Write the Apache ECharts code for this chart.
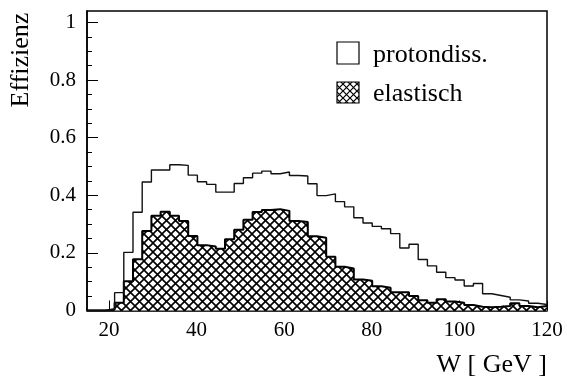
<!DOCTYPE html>
<html><head><meta charset="utf-8">
<script src="https://cdn.jsdelivr.net/npm/echarts@6/dist/echarts.min.js"></script>
<style>html,body{margin:0;padding:0;background:#fff}#c{width:567px;height:378px}</style>
</head><body><div id="c"></div>
<script>
// Histogram binning (50 bins from 15 to 120 GeV)
const binStart = 15;
const binWidth = 2.1;
const binCount = 50;

const protondiss = [
  0, 0, 0.006, 0.062, 0.202, 0.341, 0.446, 0.488, 0.488, 0.506,
  0.504, 0.470, 0.447, 0.438, 0.411, 0.411, 0.441, 0.461, 0.477, 0.484,
  0.475, 0.481, 0.469, 0.467, 0.440, 0.399, 0.405, 0.378, 0.360, 0.322,
  0.304, 0.292, 0.284, 0.267, 0.217, 0.230, 0.177, 0.155, 0.133, 0.114,
  0.106, 0.085, 0.094, 0.058, 0.052, 0.046, 0.037, 0.033, 0.025, 0.021
];
const elastisch = [
  0, 0, 0.003, 0.027, 0.102, 0.178, 0.276, 0.329, 0.343, 0.329,
  0.311, 0.259, 0.227, 0.222, 0.214, 0.247, 0.280, 0.315, 0.342, 0.349,
  0.352, 0.346, 0.311, 0.307, 0.258, 0.253, 0.187, 0.152, 0.146, 0.108,
  0.103, 0.084, 0.079, 0.063, 0.063, 0.050, 0.036, 0.027, 0.039, 0.031,
  0.027, 0.019, 0.013, 0.011, 0.013, 0.016, 0.025, 0.016, 0.011, 0.016
];

const xTickLabels = [20, 40, 60, 80, 100, 120];
const xMinorTicks = [30, 50, 70, 90, 110];
const yTickLabels = [0, 0.2, 0.4, 0.6, 0.8, 1];
const yMinorTicks = [0.05, 0.1, 0.15, 0.25, 0.3, 0.35, 0.45, 0.5, 0.55, 0.65, 0.7, 0.75, 0.85, 0.9, 0.95];

const seriesNames = ['protondiss.', 'elastisch'];
const xTitle = 'W [ GeV ]';
const yTitle = 'Effizienz';

function stepData(vals) {
  const d = vals.map((v, i) => [binStart + binWidth * i, v]);
  d.push([binStart + binWidth * binCount, vals[vals.length - 1]]);
  return d;
}

function hatch(size, lw) {
  const c = document.createElement('canvas');
  c.width = size; c.height = size;
  const g = c.getContext('2d');
  g.fillStyle = '#fff';
  g.fillRect(0, 0, size, size);
  g.strokeStyle = '#000';
  g.lineWidth = lw;
  g.beginPath();
  g.moveTo(-1, -1); g.lineTo(size + 1, size + 1);
  g.moveTo(-1, size + 1); g.lineTo(size + 1, -1);
  g.stroke();
  return c;
}
const hatchPattern = { image: hatch(9, 1.6), repeat: 'repeat' };
const hatchSmall = { image: hatch(7, 1.2), repeat: 'repeat' };

const FONT = '"Liberation Serif", "Times New Roman", serif';
const chart = echarts.init(document.getElementById('c'), null, { renderer: 'canvas' });

const baseAxis = {
  type: 'value',
  splitLine: { show: false }
};

chart.setOption({
  animation: false,
  backgroundColor: '#fff',
  grid: {
    left: 87, right: 20, top: 11, bottom: 67.5,
    show: true, borderColor: '#000', borderWidth: 1.5,
    containLabel: false, outerBoundsMode: 'none'
  },
  xAxis: [
    Object.assign({}, baseAxis, {
      min: 15, max: 120, position: 'bottom',
      axisLine: { show: true, lineStyle: { color: '#000', width: 1.5 } },
      axisTick: { show: true, inside: true, length: 10, customValues: xTickLabels, lineStyle: { color: '#000', width: 1 } },
      axisLabel: { show: true, customValues: xTickLabels, color: '#000', fontFamily: FONT, fontSize: 21, margin: 9 }
    }),
    Object.assign({}, baseAxis, {
      min: 15, max: 120, position: 'bottom',
      axisLine: { show: false },
      axisTick: { show: true, inside: true, length: 5, customValues: xMinorTicks, lineStyle: { color: '#000', width: 1 } },
      axisLabel: { show: false }
    })
  ],
  yAxis: [
    Object.assign({}, baseAxis, {
      min: 0, max: 1.04, position: 'left',
      axisLine: { show: true, lineStyle: { color: '#000', width: 1.5 } },
      axisTick: { show: true, inside: true, length: 11, customValues: yTickLabels, lineStyle: { color: '#000', width: 1 } },
      axisLabel: { show: true, customValues: yTickLabels, color: '#000', fontFamily: FONT, fontSize: 21, margin: 11 }
    }),
    Object.assign({}, baseAxis, {
      min: 0, max: 1.04, position: 'left',
      axisLine: { show: false },
      axisTick: { show: true, inside: true, length: 5, customValues: yMinorTicks, lineStyle: { color: '#000', width: 1 } },
      axisLabel: { show: false }
    })
  ],
  series: [
    {
      name: seriesNames[1], type: 'line', step: 'end',
      xAxisIndex: 0, yAxisIndex: 0,
      data: stepData(elastisch),
      showSymbol: false, symbol: 'none',
      lineStyle: { color: '#000', width: 2 },
      areaStyle: { color: hatchPattern, opacity: 1 },
      z: 2
    },
    {
      name: seriesNames[0], type: 'line', step: 'end',
      xAxisIndex: 0, yAxisIndex: 0,
      data: stepData(protondiss),
      showSymbol: false, symbol: 'none',
      lineStyle: { color: '#111', width: 1.4 },
      z: 3
    }
  ],
  graphic: [
    { type: 'text', x: 21, y: 60, rotation: Math.PI / 2,
      style: { text: yTitle, font: '26px ' + FONT, fill: '#000', align: 'center', verticalAlign: 'middle' } },
    { type: 'text', x: 547, y: 365,
      style: { text: xTitle, font: '26px ' + FONT, fill: '#000', align: 'right', verticalAlign: 'middle' } },
    { type: 'rect', shape: { x: 337, y: 42, width: 22, height: 22 },
      style: { fill: '#fff', stroke: '#000', lineWidth: 1.2 } },
    { type: 'rect', shape: { x: 337, y: 82, width: 22, height: 21 },
      style: { fill: hatchSmall, stroke: '#000', lineWidth: 1.2 } },
    { type: 'text', x: 373, y: 55,
      style: { text: seriesNames[0], font: '26px ' + FONT, fill: '#000', align: 'left', verticalAlign: 'middle' } },
    { type: 'text', x: 373, y: 94.5,
      style: { text: seriesNames[1], font: '26px ' + FONT, fill: '#000', align: 'left', verticalAlign: 'middle' } }
  ]
});
</script>
</body></html>
